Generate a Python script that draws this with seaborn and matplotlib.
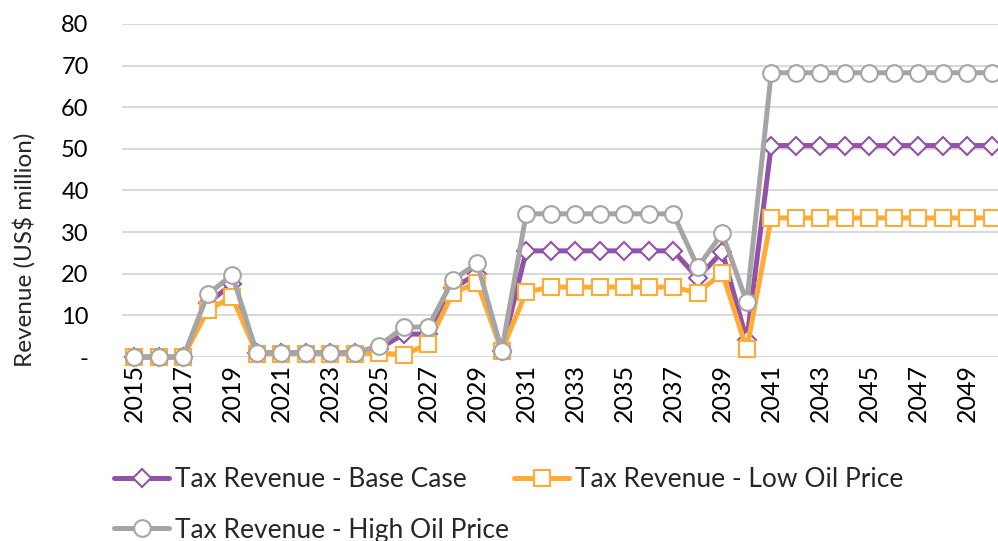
import matplotlib
matplotlib.use("Agg")
import matplotlib.pyplot as plt
import seaborn as sns
import pandas as pd

years = list(range(2015, 2051))
base_case = [0, 0, 0, 13, 17.5, 1, 1, 1, 1, 1, 2, 5.5, 5.5, 16.5, 20, 1.5,
             25.5, 25.5, 25.5, 25.5, 25.5, 25.5, 25.5, 19, 25.3, 4,
             50.8, 50.8, 50.8, 50.8, 50.8, 50.8, 50.8, 50.8, 50.8, 50.8]
low_oil = [0, 0, 0, 11.3, 14.4, 0.8, 0.8, 0.8, 0.8, 0.8, 1, 0.5, 3.2, 15.4, 17.8, 1.5,
           15.6, 16.8, 16.8, 16.8, 16.8, 16.8, 16.8, 15.4, 20.2, 1.9,
           33.4, 33.4, 33.4, 33.4, 33.4, 33.4, 33.4, 33.4, 33.4, 33.4]
high_oil = [0, 0, 0, 15.1, 19.7, 1, 1, 1, 1, 1, 2.7, 7.2, 7.2, 18.5, 22.5, 1.5,
            34.4, 34.4, 34.4, 34.4, 34.4, 34.4, 34.4, 21.6, 29.7, 13.2,
            68.3, 68.3, 68.3, 68.3, 68.3, 68.3, 68.3, 68.3, 68.3, 68.3]
series_names = ["Tax Revenue - Base Case", "Tax Revenue - Low Oil Price",
                "Tax Revenue - High Oil Price"]
y_ticks = [0, 10, 20, 30, 40, 50, 60, 70, 80]
y_tick_labels = ["-", "10", "20", "30", "40", "50", "60", "70", "80"]

df = pd.DataFrame({"year": years, series_names[0]: base_case,
                   series_names[1]: low_oil, series_names[2]: high_oil})

sns.set_theme(style="white")
plt.rcParams["font.family"] = ["Lato", "DejaVu Sans"]

W, H = 998, 541
fig = plt.figure(figsize=(W / 100, H / 100), dpi=100)
ax = fig.add_axes([122 / W, (H - 357) / H, (1004 - 122) / W, (357 - 24) / H])

colors = ["#9352A6", "#FFAB36", "#A5A5A5"]
markers = ["D", "s", "o"]
msizes = [9, 12, 12]
for name, c, m, ms in zip(series_names, colors, markers, msizes):
    sns.lineplot(data=df, x="year", y=name, ax=ax, color=c, linewidth=3.6,
                 marker=m, markersize=ms, markerfacecolor="white",
                 markeredgecolor=c, markeredgewidth=1.5, label=name,
                 clip_on=False)

ax.set_xlim(2014.5, 2050.5)
ax.set_ylim(0, 80)
ax.set_yticks(y_ticks)
ax.set_yticklabels(y_tick_labels, fontsize=17)
ax.set_xticks(years[::2])
ax.set_xticklabels([str(y) for y in years[::2]], rotation=90, fontsize=18)
ax.tick_params(axis="y", length=0, pad=24, colors="#000000")
ax.tick_params(axis="x", length=0, pad=5, colors="#000000")
ax.set_xlabel("")
ax.set_ylabel("Revenue (US$ million)", fontsize=17.5)
ax.yaxis.set_label_coords((36 - 122) / 882, (357 - 250) / 333)
ax.grid(axis="y", color="#D9D9D9", linewidth=1.5)
ax.set_axisbelow(True)
for s in ax.spines.values():
    s.set_visible(False)

handles, labels = ax.get_legend_handles_labels()
order = [0, 2, 1]
leg = ax.legend([handles[i] for i in order], [labels[i] for i in order],
                loc="center left", bbox_to_anchor=(114 / W, (H - 505) / H),
                bbox_transform=fig.transFigure, ncol=2, frameon=False,
                fontsize=19, handlelength=2.1, handletextpad=0.2,
                columnspacing=0.2, labelspacing=0.95, borderaxespad=0,
                borderpad=0)

fig.savefig("out.png", dpi=100)
